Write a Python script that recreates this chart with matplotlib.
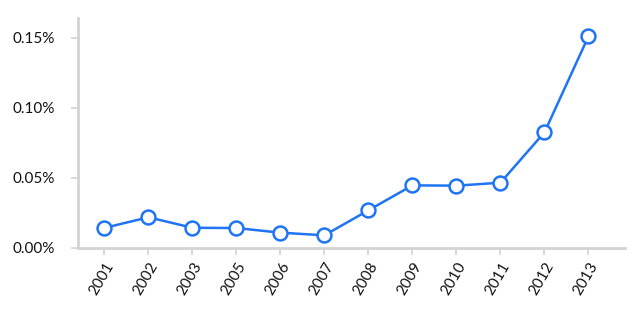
import matplotlib
matplotlib.use("Agg")
import matplotlib.pyplot as plt
from matplotlib.ticker import FuncFormatter

years = ["2001", "2002", "2003", "2005", "2006", "2007", "2008", "2009", "2010", "2011", "2012", "2013"]
values = [0.0140, 0.0216, 0.0141, 0.0139, 0.0106, 0.0087, 0.0266, 0.0444, 0.0442, 0.0463, 0.0823, 0.1509]
yticks = [0.0, 0.05, 0.10, 0.15]

plt.rcParams['font.family'] = ['Lato', 'DejaVu Sans']

fig = plt.figure(figsize=(6.38, 3.18), dpi=100)
ax = fig.add_axes([78/638, 1-247.5/318, (625-78)/638, (247.5-18)/318])

x = list(range(len(years)))
ax.plot(x, values, color='#1f74f4', lw=1.8, marker='o', markersize=10,
        markerfacecolor='white', markeredgecolor='#1f74f4', markeredgewidth=1.8,
        zorder=3, clip_on=False)

ax.set_xlim(-0.6, len(years) - 1 + 0.83)
ax.set_ylim(0, 0.164)
ax.set_xticks(x)
ax.set_xticklabels(years, rotation=60, ha='right', rotation_mode='anchor', fontsize=11, color='#111111')
ax.set_yticks(yticks)
ax.yaxis.set_major_formatter(FuncFormatter(lambda v, p: f"{v:.2f}%"))
for lab in ax.get_yticklabels():
    lab.set_fontsize(11)
    lab.set_color('#111111')

for s in ['top', 'right']:
    ax.spines[s].set_visible(False)
for s in ['left', 'bottom']:
    ax.spines[s].set_color('#d3d3d3')
    ax.spines[s].set_linewidth(2)
ax.tick_params(axis='both', colors='#d3d3d3', length=5, width=1.2, labelcolor='#111111')
ax.tick_params(axis='y', pad=12)
ax.tick_params(axis='x', pad=4)

fig.savefig("out.png", dpi=100)
